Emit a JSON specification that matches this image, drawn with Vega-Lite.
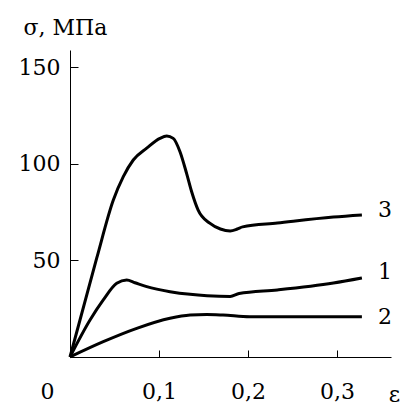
{
  "$schema": "https://vega.github.io/schema/vega-lite/v6.json",
  "width": 321,
  "height": 307,
  "autosize": {"type": "none"},
  "padding": {"left": 70, "top": 50, "right": 13, "bottom": 51},
  "background": "white",
  "config": {
    "font": "DejaVu Serif",
    "view": {"stroke": null},
    "axis": {"grid": false, "domainColor": "black", "tickColor": "black", "labelColor": "black", "titleColor": "black", "labelFont": "DejaVu Serif", "titleFont": "DejaVu Serif", "labelFontSize": 22, "titleFontSize": 22, "titleFontWeight": "normal", "domainWidth": 1, "tickWidth": 1}
  },
  "datasets": {
    "curves": [
      {"curve": "3", "x": 0, "y": 0},
      {"curve": "3", "x": 0.030, "y": 51.1},
      {"curve": "3", "x": 0.0487, "y": 81.2},
      {"curve": "3", "x": 0.0599, "y": 93.3},
      {"curve": "3", "x": 0.0711, "y": 101.9},
      {"curve": "3", "x": 0.0862, "y": 108.0},
      {"curve": "3", "x": 0.101, "y": 113.1},
      {"curve": "3", "x": 0.1087, "y": 114.3},
      {"curve": "3", "x": 0.116, "y": 113.1},
      {"curve": "3", "x": 0.1236, "y": 106.2},
      {"curve": "3", "x": 0.131, "y": 95.0},
      {"curve": "3", "x": 0.1367, "y": 85.5},
      {"curve": "3", "x": 0.144, "y": 76.0},
      {"curve": "3", "x": 0.157, "y": 69.2},
      {"curve": "3", "x": 0.169, "y": 66.2},
      {"curve": "3", "x": 0.18, "y": 65.2},
      {"curve": "3", "x": 0.188, "y": 66.2},
      {"curve": "3", "x": 0.194, "y": 67.3},
      {"curve": "3", "x": 0.233, "y": 69.3},
      {"curve": "3", "x": 0.296, "y": 72.4},
      {"curve": "3", "x": 0.328, "y": 73.5},
      {"curve": "1", "x": 0, "y": 0},
      {"curve": "1", "x": 0.0225, "y": 19.1},
      {"curve": "1", "x": 0.0374, "y": 29.5},
      {"curve": "1", "x": 0.0525, "y": 38.1},
      {"curve": "1", "x": 0.0637, "y": 39.8},
      {"curve": "1", "x": 0.073, "y": 38.4},
      {"curve": "1", "x": 0.0862, "y": 36.4},
      {"curve": "1", "x": 0.1124, "y": 33.8},
      {"curve": "1", "x": 0.135, "y": 32.4},
      {"curve": "1", "x": 0.154, "y": 31.7},
      {"curve": "1", "x": 0.18, "y": 31.3},
      {"curve": "1", "x": 0.19, "y": 32.8},
      {"curve": "1", "x": 0.233, "y": 34.7},
      {"curve": "1", "x": 0.296, "y": 38.3},
      {"curve": "1", "x": 0.328, "y": 40.9},
      {"curve": "2", "x": 0, "y": 0},
      {"curve": "2", "x": 0.0374, "y": 7.9},
      {"curve": "2", "x": 0.075, "y": 14.8},
      {"curve": "2", "x": 0.1124, "y": 20.0},
      {"curve": "2", "x": 0.135, "y": 21.7},
      {"curve": "2", "x": 0.1536, "y": 22.0},
      {"curve": "2", "x": 0.172, "y": 21.7},
      {"curve": "2", "x": 0.202, "y": 20.8},
      {"curve": "2", "x": 0.328, "y": 20.8}
    ],
    "labels": [
      {"label": "3", "x": 0.354, "y": 76},
      {"label": "1", "x": 0.354, "y": 44},
      {"label": "2", "x": 0.354, "y": 20.7}
    ]
  },
  "layer": [
    {
      "data": {"name": "curves"},
      "mark": {"type": "line", "color": "black", "strokeWidth": 3, "interpolate": "monotone"},
      "encoding": {
        "x": {
          "field": "x", "type": "quantitative",
          "scale": {"domain": [0, 0.3607], "nice": false, "zero": false},
          "axis": {
            "values": [0, 0.1, 0.2, 0.3],
            "labelExpr": "replace(format(datum.value, '.1~f'), '.', ',')",
            "tickSize": -7,
            "labelPadding": 48,
            "labelBaseline": "alphabetic",
            "labelFlush": false,
            "labelOffset": {"condition": {"test": "datum.value === 0", "value": -23}, "value": 0},
            "title": "ε",
            "titleAnchor": "start",
            "titleAlign": "center",
            "titleBaseline": "alphabetic",
            "titleX": 324,
            "titleY": 44,
            "titleAngle": 0
          }
        },
        "y": {
          "field": "y", "type": "quantitative",
          "scale": {"domain": [0, 158.8], "nice": false},
          "axis": {
            "values": [50, 100, 150],
            "tickSize": -8,
            "labelPadding": 18,
            "title": "σ, МПа",
            "titleAngle": 0,
            "titleAlign": "center",
            "titleBaseline": "alphabetic",
            "titleX": -5,
            "titleY": -16
          }
        },
        "detail": {"field": "curve", "type": "nominal"}
      }
    },
    {
      "data": {"name": "labels"},
      "mark": {"type": "text", "fontSize": 22, "font": "DejaVu Serif", "color": "black", "align": "center", "baseline": "middle"},
      "encoding": {
        "x": {"field": "x", "type": "quantitative"},
        "y": {"field": "y", "type": "quantitative"},
        "text": {"field": "label"}
      }
    }
  ]
}
